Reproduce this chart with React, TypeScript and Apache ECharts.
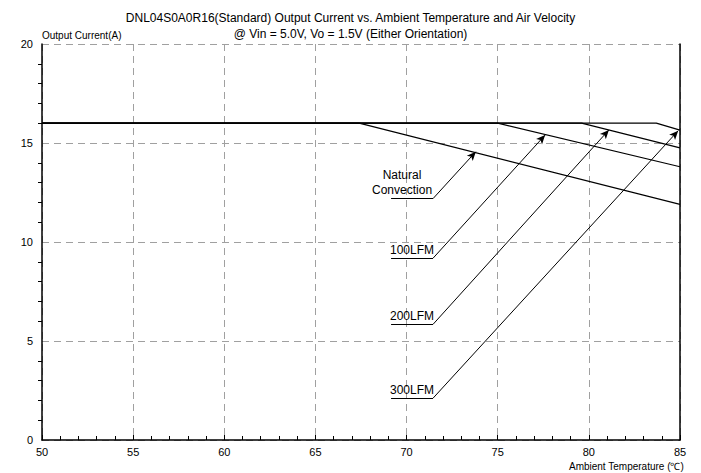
import React, { useEffect, useRef } from "react";
import * as echarts from "echarts";

const titleLines = [
  "DNL04S0A0R16(Standard) Output Current vs. Ambient Temperature and Air Velocity",
  "@ Vin = 5.0V, Vo = 1.5V (Either Orientation)",
];
const xTicks = { min: 50, max: 85, interval: 5 };
const yTicks = { min: 0, max: 20, interval: 5 };

const seriesNames = ["Natural Convection", "100LFM", "200LFM", "300LFM"];
// [temperature (°C), output current (A)]
const naturalConvection = [[50, 16], [67.4, 16], [85, 11.9]];
const lfm100 = [[50, 16], [75, 16], [85, 13.8]];
const lfm200 = [[50, 16], [79.6, 16], [85, 14.75]];
const lfm300 = [[50, 16], [83.7, 16], [85, 15.65]];

// annotation labels, underline (x from / to, y) and arrow tip on curve
const labelTexts = ["Natural\nConvection", "100LFM", "200LFM", "300LFM"];
const underlineX = [69.15, 71.45];
const underlineY = [12.19, 9.18, 5.84, 2.11];
const arrowTips = [[73.8, 14.56], [77.6, 15.4], [81.1, 15.66], [84.9, 15.62]];

const FONT = "'Liberation Sans', Arial, sans-serif";

export default function App() {
  const ref = useRef<HTMLDivElement>(null);
  useEffect(() => {
    document.body.style.margin = "0";
    const chart = echarts.init(ref.current!, null, { renderer: "svg" });
    const curves = [naturalConvection, lfm100, lfm200, lfm300];
    const lineSeries = curves.map((d, i) => ({
      name: seriesNames[i],
      type: "line",
      data: d,
      symbol: "none",
      lineStyle: { color: "#000", width: 1.2 },
      silent: true,
    }));
    chart.setOption({
      animation: false,
      textStyle: { fontFamily: FONT },
      title: {
        text: titleLines.join("\n"),
        left: "center",
        top: 5,
        textStyle: { fontSize: 12, fontWeight: "normal", color: "#000", lineHeight: 16, fontFamily: FONT },
      },
      grid: { left: 42, right: 21, top: 44, bottom: 33, containLabel: false },
      xAxis: {
        type: "value",
        min: xTicks.min,
        max: xTicks.max,
        interval: xTicks.interval,
        axisLine: { lineStyle: { color: "#000", width: 1.5 } },
        axisTick: { inside: true, length: 5, lineStyle: { color: "#000" } },
        minorTick: { show: true, splitNumber: 5, length: 4, lineStyle: { color: "#000" } },
        axisLabel: { color: "#000", fontSize: 11, margin: 6, fontFamily: FONT },
        splitLine: { show: true, lineStyle: { color: "#a0a0a0", type: [7, 5], width: 1 } },
      },
      yAxis: [
        {
          type: "value",
          min: yTicks.min,
          max: yTicks.max,
          interval: yTicks.interval,
          name: "Output Current(A)",
          nameLocation: "end",
          nameGap: 4,
          nameTextStyle: { align: "left", verticalAlign: "bottom", fontSize: 10, color: "#000", fontFamily: FONT },
          axisLine: { show: true, lineStyle: { color: "#000", width: 1.5 } },
          axisTick: { show: false },
          minorTick: { show: true, splitNumber: 5, length: 4, lineStyle: { color: "#000" } },
          axisLabel: { color: "#000", fontSize: 11, margin: 9, fontFamily: FONT },
          splitLine: { show: true, lineStyle: { color: "#a0a0a0", type: [7, 5], width: 1 } },
        },
        {
          type: "value",
          min: yTicks.min,
          max: yTicks.max,
          position: "right",
          axisLine: { show: true, lineStyle: { color: "#000", width: 1.5 } },
          axisTick: { show: false },
          axisLabel: { show: false },
          splitLine: { show: false },
        },
      ],
      graphic: [
        {
          type: "text",
          right: 17,
          bottom: 2,
          style: { text: "Ambient Temperature (℃)", fontSize: 10, fill: "#000", fontFamily: FONT },
        },
      ],
      series: [
        ...lineSeries,
        {
          type: "line",
          data: [],
          silent: true,
          markLine: {
            silent: true,
            animation: false,
            symbol: ["none", "arrow"],
            symbolSize: [6, 9],
            label: { show: false },
            lineStyle: { color: "#000", width: 1, type: "solid" },
            data: arrowTips.map((tip, i) => [
              { coord: [underlineX[1], underlineY[i]] },
              { coord: tip },
            ]),
          },
        },
        {
          type: "line",
          data: [],
          silent: true,
          markLine: {
            silent: true,
            animation: false,
            symbol: ["none", "none"],
            lineStyle: { color: "#000", width: 1, type: "solid" },
            label: {
              show: true,
              position: "insideMiddleTop",
              distance: 1,
              color: "#000",
              fontSize: 12,
              lineHeight: 15,
              fontFamily: FONT,
              align: "center",
            },
            data: labelTexts.map((t, i) => [
              {
                coord: [underlineX[0], underlineY[i]],
                name: t,
                label: i === 0 ? { formatter: t, padding: [0, 20, 0, 0] } : { formatter: t },
              },
              { coord: [underlineX[1], underlineY[i]] },
            ]),
          },
        },
      ],
    });
    return () => chart.dispose();
  }, []);
  return <div ref={ref} style={{ width: 701, height: 473 }} />;
}
